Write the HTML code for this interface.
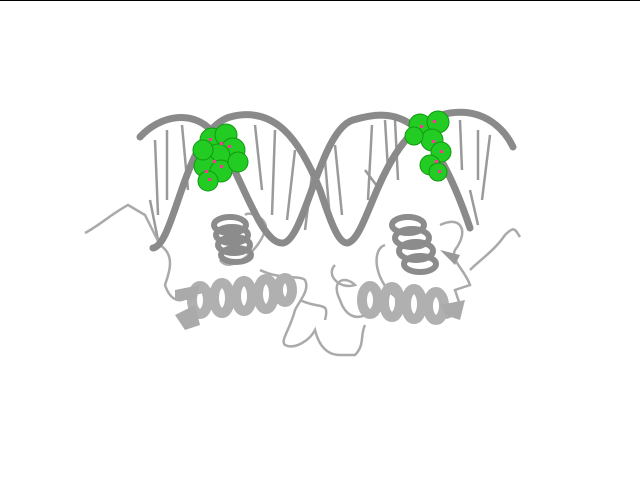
<!DOCTYPE html>
<html><head><meta charset="utf-8"><style>
html,body{margin:0;padding:0;background:#fff;width:640px;height:480px;overflow:hidden}
svg{display:block}
</style></head><body>
<svg width="640" height="480" viewBox="0 0 640 480">
<rect x="0" y="0" width="640" height="1" fill="#000"/>
<g stroke="#9a9a9a" stroke-width="2.5" fill="none">
<path d="M155 140 L158 215 M167 130 L167 200 M182 125 L188 190 M255 125 L262 190 M275 130 L272 215 M295 150 L287 220 M312 175 L305 230 M325 160 L330 220 M335 145 L342 215 M372 125 L368 200 M385 120 L388 170 M395 120 L398 180 M460 120 L462 170 M478 130 L478 180 M490 135 L482 200 M150 200 L158 240 M470 190 L478 225 M365 170 L380 190"/>
</g>
<g stroke="#aaa" stroke-width="2.5" fill="none">
<path d="M85 233 C100 225 110 215 128 205 L145 215 L160 245 C175 255 170 270 165 285 C170 300 180 305 190 295 L210 290"/>
<path d="M220 260 C230 275 260 250 265 230 C270 220 250 210 245 215"/>
<path d="M260 270 C280 280 300 275 305 280 C310 290 300 300 295 310 C290 330 280 340 285 345 C295 350 310 340 315 330 C320 350 330 355 340 355 L355 355 C365 345 360 335 365 325"/>
<path d="M300 300 C320 310 330 300 325 320"/>
<path d="M335 265 C325 275 340 290 355 285 C345 275 330 280 340 300 C345 315 355 320 365 315"/>
<path d="M385 245 C370 250 375 285 400 300"/>
<path d="M440 225 C460 215 470 230 455 250 C450 260 465 270 470 285 L455 290 L460 305 C455 320 440 320 430 315"/>
<path d="M470 270 C480 260 495 250 505 235 C515 225 515 230 520 237"/>
</g>
<g fill="none" stroke="#8c8c8c" stroke-width="6">
<g><ellipse cx="230" cy="225" rx="16" ry="8"/><ellipse cx="232" cy="235" rx="16" ry="8"/><ellipse cx="234" cy="245" rx="16" ry="8"/><ellipse cx="236" cy="255" rx="15" ry="7"/></g>
<g><ellipse cx="408" cy="225" rx="16" ry="8"/><ellipse cx="412" cy="238" rx="17" ry="9"/><ellipse cx="416" cy="251" rx="17" ry="9"/><ellipse cx="420" cy="264" rx="16" ry="8"/></g>
<g stroke="#b0b0b0" stroke-width="10"><ellipse cx="200" cy="300" rx="8" ry="14"/><ellipse cx="222" cy="298" rx="8" ry="15"/><ellipse cx="244" cy="296" rx="8" ry="15"/><ellipse cx="266" cy="294" rx="8" ry="15"/><ellipse cx="285" cy="290" rx="7" ry="12"/></g>
<g stroke="#b0b0b0" stroke-width="10"><ellipse cx="370" cy="300" rx="8" ry="14"/><ellipse cx="392" cy="302" rx="8" ry="15"/><ellipse cx="414" cy="304" rx="8" ry="15"/><ellipse cx="436" cy="306" rx="8" ry="14"/></g>
<polygon points="175,290 200,285 195,300 175,300" fill="#aaa" stroke="none"/>
<polygon points="175,315 195,305 200,325 185,330" fill="#aaa" stroke="none"/>
<polygon points="440,305 465,300 460,320 445,315" fill="#aaa" stroke="none"/>
<polygon points="440,250 460,255 455,265" fill="#999" stroke="none"/>
</g>
<g fill="none" stroke="#8a8a8a" stroke-width="7" stroke-linecap="round">
<path d="M140 137 C160 115 195 108 215 135 C240 170 260 245 283 243 C305 240 320 130 353 120 C395 108 430 110 470 228"/>
<path d="M153 248 C175 245 185 130 230 117 C275 105 300 140 320 190 C330 220 338 243 347 243 C370 240 380 125 450 113 C485 108 505 130 513 147"/>
</g>
<g fill="#22cc22" stroke="#119911" stroke-width="1">
<circle cx="212" cy="140" r="12"/><circle cx="226" cy="135" r="11"/><circle cx="233" cy="150" r="12"/><circle cx="218" cy="156" r="12"/><circle cx="205" cy="166" r="11"/><circle cx="221" cy="171" r="11"/><circle cx="208" cy="181" r="10"/><circle cx="203" cy="150" r="10"/><circle cx="238" cy="162" r="10"/>
</g>
<g fill="#22cc22" stroke="#119911" stroke-width="1">
<circle cx="420" cy="125" r="11"/><circle cx="438" cy="122" r="11"/><circle cx="432" cy="140" r="11"/><circle cx="441" cy="152" r="10"/><circle cx="430" cy="165" r="10"/><circle cx="438" cy="172" r="9"/><circle cx="414" cy="136" r="9"/>
</g>
<g fill="#ff3399">
<rect x="209" y="138" width="3" height="3"/><rect x="220" y="142" width="3" height="3"/><rect x="228" y="145" width="3" height="3"/><rect x="213" y="160" width="3" height="3"/><rect x="205" y="170" width="3" height="3"/><rect x="220" y="165" width="3" height="3"/><rect x="208" y="178" width="3" height="3"/>
<rect x="420" y="125" width="3" height="3"/><rect x="433" y="120" width="3" height="3"/><rect x="432" y="140" width="3" height="3"/><rect x="440" y="150" width="3" height="3"/><rect x="435" y="160" width="3" height="3"/><rect x="438" y="170" width="3" height="3"/>
</g>
</svg>
</body></html>
